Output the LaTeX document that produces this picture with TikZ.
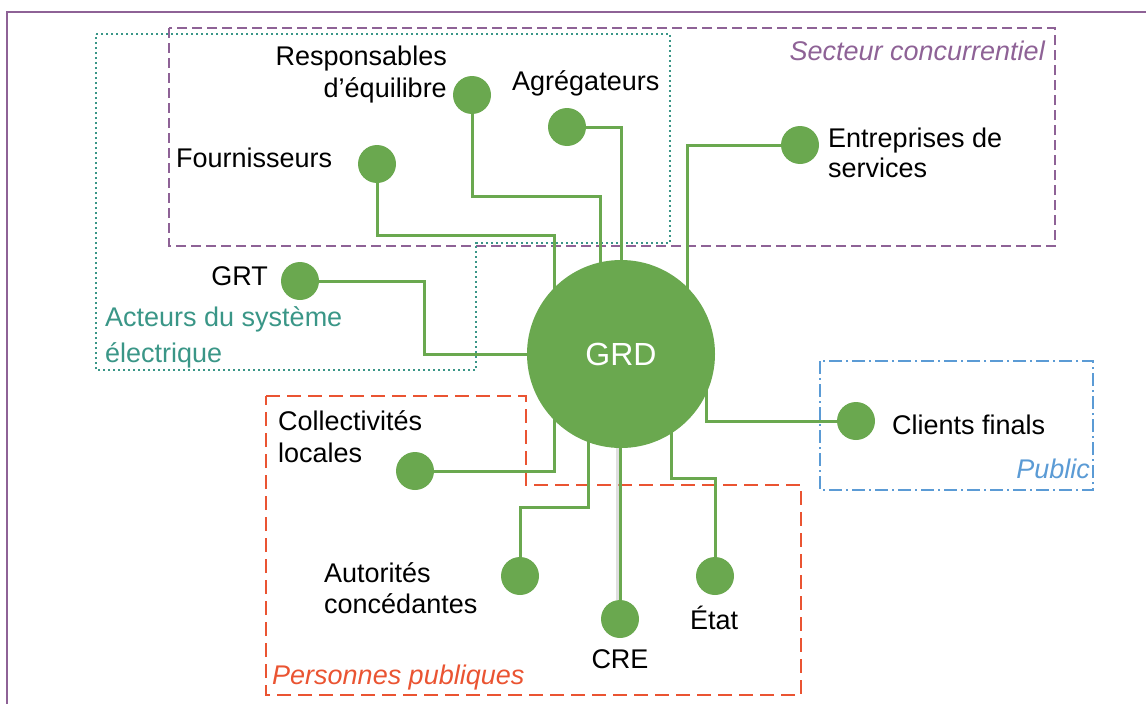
\documentclass[tikz,border=0pt]{standalone}
\usepackage{fontspec}
\setmainfont{Liberation Sans}
\usetikzlibrary{backgrounds}
\definecolor{grn}{RGB}{106,168,79}
\definecolor{purp}{RGB}{142,98,150}
\definecolor{teal2}{RGB}{58,150,135}
\definecolor{redd}{RGB}{234,84,50}
\definecolor{blu}{RGB}{91,155,213}
\tikzset{
  dot/.style={circle,fill=grn,inner sep=0pt,minimum size=38pt},
  lbl/.style={inner sep=0pt,font=\fontsize{27}{32}\selectfont},
  grp/.style={inner sep=0pt,font=\fontsize{27}{32}\selectfont\itshape},
  conn/.style={draw=grn,line width=3pt},
  secteurbox/.style={draw=purp,line width=2.6pt,dash pattern=on 10pt off 5pt},
  acteurbox/.style={draw=teal2,line width=2.8pt,dash pattern=on 2.4pt off 2.6pt},
  persbox/.style={draw=redd,line width=2.8pt,dash pattern=on 14pt off 7pt},
  pubbox/.style={draw=blu,line width=2.4pt,dash pattern=on 13pt off 4pt on 2pt off 4pt},
}
\begin{document}
\begin{tikzpicture}[x=1pt,y=-1pt]
\useasboundingbox (0,0) rectangle (1146,704);
\begin{scope}
\clip (0,0) rectangle (1146,704);
\draw[purp,line width=2.5pt] (7,720) -- (7,12) -- (1160,12);
\end{scope}

% main node
\node[circle,fill=grn,inner sep=0pt,minimum size=188pt,text=white,font=\fontsize{32}{36}\selectfont] (grd) at (621,354) {GRD};

% small nodes
\node[dot] (resp) at (472,95) {};
\node[dot] (agr) at (567,127) {};
\node[dot] (fourn) at (377,164) {};
\node[dot] (entr) at (800,145) {};
\node[dot] (grt) at (300,281) {};
\node[dot] (cli) at (856,421) {};
\node[dot] (col) at (415,471) {};
\node[dot] (aut) at (520,576) {};
\node[dot] (cre) at (620,619) {};
\node[dot] (etat) at (715,576) {};

% labels
\node[lbl,anchor=base east] (resp1) at (447,65) {Responsables};
\node[lbl,anchor=base east] (resp2) at (447,97) {d’équilibre};
\node[lbl,anchor=base west] (agrt) at (512,90) {Agrégateurs};
\node[lbl,anchor=base west] (fournt) at (176,167) {Fournisseurs};
\node[lbl,anchor=base west] (entr1) at (828,147) {Entreprises de};
\node[lbl,anchor=base west] (entr2) at (828,177) {services};
\node[lbl,anchor=base east] (grtt) at (268,285) {GRT};
\node[lbl,anchor=base west] (clit) at (892,434) {Clients finals};
\node[lbl,anchor=base west] (col1) at (278,430) {Collectivités};
\node[lbl,anchor=base west] (col2) at (278,462) {locales};
\node[lbl,anchor=base west] (aut1) at (324,582) {Autorités};
\node[lbl,anchor=base west] (aut2) at (324,613) {concédantes};
\node[lbl,anchor=base] (cret) at (620,668) {CRE};
\node[lbl,anchor=base west] (etatt) at (690,629) {État};

% group labels
\node[grp,text=purp,anchor=base east] (secteur) at (1045,60) {Secteur concurrentiel};
\node[lbl,text=teal2,anchor=base west] (act1) at (105,326) {Acteurs du système};
\node[lbl,text=teal2,anchor=base west] (act2) at (105,362) {électrique};
\node[grp,text=redd,anchor=base west] (pers) at (272,684) {Personnes publiques};
\node[grp,text=blu,anchor=base east] (pub) at (1090,478) {Public};

\begin{scope}[on background layer]
  % group boxes
  \draw[secteurbox] (169,28) rectangle (1055,246);
  \draw[acteurbox] (96,34) -- (670,34) -- (670,243) -- (476,243) -- (476,370) -- (96,370) -- cycle;
  \draw[persbox] (266,396) -- (526,396) -- (526,485) -- (801,485) -- (801,695) -- (266,695) -- cycle;
  \draw[pubbox] (820,361) rectangle (1093,490);
  % connectors
  \draw[conn] (fourn.south) |- (554,235) -- ([xshift=-67pt]grd.center);
  \draw[conn] (resp.south) |- (600,196) -- ([xshift=-21pt]grd.center);
  \draw[conn] (agr.east) -| (grd.center);
  \draw[conn] (entr.west) -| ([xshift=66pt]grd.center);
  \draw[conn] (grt.east) -| (424,354) -- (grd.center);
  \draw[conn] ([xshift=85pt]grd.center) |- (cli.west);
  \draw[conn] (col.east) -| ([xshift=-67pt]grd.center);
  \draw[conn] (aut.north) |- (588,507) -- ([xshift=-33pt]grd.center);
  \draw[black!25,line width=3pt,opacity=0.5] ([xshift=-3pt]cre.north) -- ([xshift=-4pt]grd.center);
  \draw[conn] (cre.north) -- ([xshift=-1pt]grd.center);
  \draw[conn] (etat.north) |- (671,478) -- ([xshift=50pt]grd.center);
\end{scope}
\end{tikzpicture}
\end{document}
